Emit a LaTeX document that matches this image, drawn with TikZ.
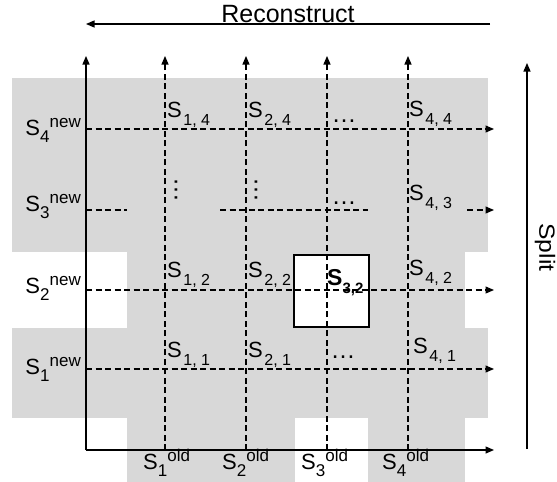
\documentclass[tikz,border=0pt]{standalone}
\usepackage{fontspec}
\setmainfont{Liberation Sans}
\usetikzlibrary{arrows.meta}
\definecolor{tile}{RGB}{216,216,216}

% S with a lowered index and a raised tag, set one after the other
\newcommand\Stag[2]{S{\fontsize{17}{17}\selectfont\raisebox{-7pt}{#1}\raisebox{7.5pt}{#2}}}
% S with a lowered pair of indices
\newcommand\Spair[1]{S\hspace{1.5pt}\raisebox{-8pt}{\fontsize{16}{16}\selectfont #1}}

\begin{document}
\begin{tikzpicture}[x=1pt,y=-1pt,
  tip/.style={-{Triangle[length=8.5pt,width=7pt]}},
  axis/.style={tip, line width=1.3pt},
  gridline/.style={line width=1.1pt, dash pattern=on 6pt off 3.5pt},
  gridarrow/.style={gridline, tip},
  cell/.style={font=\fontsize{22}{22}\selectfont, inner sep=0pt, anchor=base west},
  tagnew/.style={font=\fontsize{22}{22}\selectfont, inner sep=0pt, anchor=base east},
  tagold/.style={font=\fontsize{22}{22}\selectfont, inner sep=0pt, anchor=base west},
  dotsty/.style={font=\fontsize{25}{25}\selectfont, inner sep=0pt},
  title/.style={font=\fontsize{25}{25}\selectfont, inner sep=0pt}
]
\useasboundingbox (0,0) rectangle (557,482);

% shaded blocks behind the grid
\fill[tile] (12,78) rectangle (488,252);
\fill[tile] (127,252) rectangle (295,482);
\fill[tile] (295,252) rectangle (368,418);
\fill[tile] (368,252) rectangle (465,482);
\fill[tile] (12,328) rectangle (488,418);

% highlighted cell
\node[draw, fill=white, line width=1.3pt, minimum width=75pt, minimum height=72pt, inner sep=0pt] (cell32) at (331.5,291) {};

% axes
\coordinate (O) at (86,450);
\coordinate (ytop) at (86,56);
\coordinate (xend) at (494,450);
\draw[axis] (O) -- (ytop);
\draw[axis] (O) -- (xend);

% old columns
\foreach \i/\x in {1/165,2/246,3/327,4/408}{
  \coordinate (b\i) at (\x,450);
  \coordinate (t\i) at (\x,56);
  \draw[gridarrow] (b\i) -- (t\i);
}

% new rows
\foreach \j/\y in {1/369,2/290,4/129}{
  \coordinate (l\j) at (86,\y);
  \coordinate (r\j) at (494,\y);
  \draw[gridarrow] (l\j) -- (r\j);
}
\coordinate (l3) at (86,210);
\coordinate (m3a) at (127,210);
\coordinate (m3b) at (220,210);
\coordinate (m3c) at (368,210);
\coordinate (m3d) at (467,210);
\coordinate (r3) at (494,210);
\draw[gridline] (l3) -- (m3a);
\draw[gridline] (m3b) -- (m3c);
\draw[gridarrow] (m3d) -- (r3);

% cell labels
\node[cell] (s14) at (167,117) {\Spair{1, 4}};
\node[cell] (s24) at (248,117) {\Spair{2, 4}};
\node[cell] (s44) at (409,116) {\Spair{4, 4}};
\node[cell] (s43) at (409,200) {\Spair{4, 3}};
\node[cell] (s12) at (167,277) {\Spair{1, 2}};
\node[cell] (s22) at (248,277) {\Spair{2, 2}};
\node[cell] (s42) at (409,275) {\Spair{4, 2}};
\node[cell] (s11) at (167,357) {\Spair{1, 1}};
\node[cell] (s21) at (248,357) {\Spair{2, 1}};
\node[cell] (s41) at (413,353) {\Spair{4, 1}};
\node[inner sep=0pt, anchor=base west, font=\bfseries\fontsize{23}{23}\selectfont] (s32) at (327,285)
  {S\raisebox{-8pt}{\fontsize{15}{15}\selectfont 3,2}};

% ellipses
\node[dotsty, anchor=base] (d1) at (344,122) {…};
\node[dotsty, anchor=base] (d2) at (344,204) {…};
\node[dotsty, anchor=base] (d3) at (343,358) {…};
\node[dotsty, rotate=90] (d4) at (176,190) {…};
\node[dotsty, rotate=90] (d5) at (256,190) {…};

% row tags
\node[tagnew] (n4) at (81,135) {\Stag{4}{new}};
\node[tagnew] (n3) at (81,211) {\Stag{3}{new}};
\node[tagnew] (n2) at (81,293) {\Stag{2}{new}};
\node[tagnew] (n1) at (81,374) {\Stag{1}{new}};

% column tags
\node[tagold] (o1) at (143,469) {\Stag{1}{old}};
\node[tagold] (o2) at (222,469) {\Stag{2}{old}};
\node[tagold] (o3) at (301,469) {\Stag{3}{old}};
\node[tagold] (o4) at (382,469) {\Stag{4}{old}};

% direction arrows
\coordinate (rs) at (490,24);
\coordinate (re) at (86,24);
\draw[tip, line width=1.2pt] (rs) -- (re);
\node[title, anchor=base] (rec) at (288,22.5) {Reconstruct};

\coordinate (ss) at (527,449);
\coordinate (se) at (527,63);
\draw[tip, line width=1.2pt] (ss) -- (se);
\node[inner sep=0pt, font=\fontsize{22}{22}\selectfont, rotate=-90] (split) at (545,247.5) {\scalebox{1.12}[1]{Split}};
\end{tikzpicture}
\end{document}
